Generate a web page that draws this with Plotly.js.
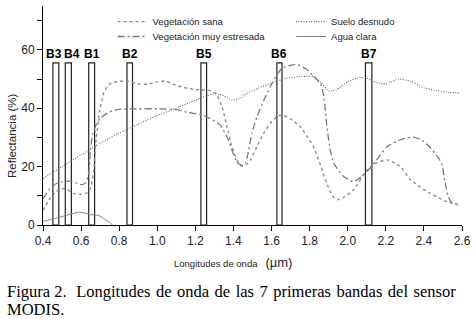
<!DOCTYPE html>
<html>
<head>
<meta charset="utf-8">
<script src="https://cdn.plot.ly/plotly-3.0.1.min.js"></script>
<style>html,body{margin:0;padding:0;background:#fff;}#chart{width:474px;height:319px;}</style>
</head>
<body>
<div id="chart"></div>
<script>
// Spectral reflectance curves (x in µm, y in %)
var sanaX = [0.40,0.43,0.47,0.50,0.53,0.56,0.60,0.63,0.65,0.665,0.68,0.70,0.72,0.75,0.80,0.85,0.90,0.95,1.00,1.04,1.10,1.16,1.22,1.28,1.31,1.34,1.366,1.392,1.418,1.445,1.47,1.49,1.523,1.558,1.593,1.628,1.655,1.70,1.75,1.80,1.82,1.86,1.89,1.92,1.943,1.98,2.03,2.10,2.15,2.206,2.24,2.276,2.33,2.38,2.43,2.48,2.52,2.58];
var sanaY = [5.0,8.5,11.5,12.5,12.0,10.8,10.5,11.0,12.5,18,30,40,45.5,48.3,49.2,49.2,48.3,48.2,49.0,49.3,47.8,46.8,46.3,46.0,44.8,40.5,33.7,26.8,22.3,20.3,20.8,22.3,26.8,31.4,34.8,37.1,37.7,36.3,33.7,29,26.8,20,14.3,10,8.6,9.5,12,18.8,21.3,22.3,21.5,20,15.5,13,10.9,9.2,8.0,7.0];

var estresX = [0.40,0.43,0.47,0.50,0.55,0.58,0.605,0.625,0.64,0.65,0.66,0.68,0.70,0.75,0.80,0.90,1.00,1.10,1.16,1.24,1.29,1.33,1.366,1.392,1.418,1.445,1.465,1.48,1.497,1.523,1.558,1.593,1.628,1.655,1.70,1.735,1.78,1.82,1.856,1.875,1.89,1.908,1.925,1.943,1.98,2.03,2.07,2.118,2.16,2.206,2.26,2.30,2.344,2.39,2.43,2.47,2.494,2.51,2.528,2.547,2.59];
var estresY = [9.0,12.0,14.2,14.8,15.0,14.3,13.8,14.5,18,26,31,34.5,36.5,38.8,39.6,39.8,39.8,39.5,38.6,37.6,36,34.3,30.2,25.7,21.7,20.2,21.5,25.7,31.5,37,42.5,47.3,51.4,53.7,54.7,54.9,53.5,51,48.5,44,34,25.7,21.5,19.5,16.5,14.8,16.5,19.5,23,26.8,28.8,29.7,30.1,29,26.8,23.5,21,15,9.7,7.5,7.0];

var sueloX = [0.40,0.50,0.60,0.70,0.80,0.90,1.00,1.10,1.20,1.26,1.31,1.35,1.39,1.43,1.47,1.53,1.60,1.68,1.74,1.82,1.86,1.90,1.94,2.00,2.06,2.10,2.15,2.20,2.27,2.33,2.40,2.47,2.53,2.59];
var sueloY = [16.0,20.0,24.0,28.0,31.5,34.5,37.5,40.0,42.8,44.3,45.0,44.2,42.8,43.3,45.0,46.8,48.6,50.3,50.8,50.8,48.7,45.9,46.3,49.1,50.5,50.3,48.8,48.4,50.0,49.2,47.0,46.0,45.4,45.2];

var aguaX = [0.40,0.45,0.50,0.55,0.59,0.62,0.65,0.69,0.72,0.75,0.765];
var aguaY = [1.3,2.0,2.9,3.8,4.4,4.1,3.5,3.3,2.2,0.8,0.0];

// MODIS bands
var bandNames = ["B3","B4","B1","B2","B5","B6","B7"];
var bandStart = [0.452,0.517,0.640,0.841,1.229,1.628,2.093];
var bandEnd   = [0.483,0.549,0.671,0.870,1.259,1.655,2.127];
var bandHeight = 55.5;

var seriesNames = ["Vegetación sana","Vegetación muy estresada","Suelo desnudo","Agua clara"];
var xTitle = "Longitudes de onda";
var xUnit = "(µm)";
var yTitle = "Reflectancia (%)";
var caption1 = "Figura 2.&nbsp;&#8202; Longitudes&#8202; de&#8202; onda&#8202; de&#8202; las&#8202; 7&#8202; primeras&#8202; bandas&#8202; del&#8202; sensor";
var caption2 = "MODIS.";

var bandCenter = bandStart.map(function(s,i){return (s+bandEnd[i])/2;});
var bandWidth = bandStart.map(function(s,i){return bandEnd[i]-s;});
var bandH = bandStart.map(function(){return bandHeight;});

var font = "Arial, 'Liberation Sans', sans-serif";
var serif = "'Times New Roman', 'Liberation Serif', serif";

var traces = [
  {type:"bar", x:bandCenter, y:bandH, width:bandWidth,
   marker:{color:"rgba(255,255,255,0)", line:{color:"#222", width:1.2}},
   showlegend:false, hoverinfo:"skip"},
  {type:"scatter", mode:"lines", name:seriesNames[0], x:sanaX, y:sanaY, legend:"legend",
   line:{color:"#8a8a8a", width:1.4, dash:"3px,3px", shape:"spline", smoothing:0.5}},
  {type:"scatter", mode:"lines", name:seriesNames[1], x:estresX, y:estresY, legend:"legend2",
   line:{color:"#7a7a7a", width:1.3, dash:"7px,3px,2px,3px", shape:"spline", smoothing:0.5}},
  {type:"scatter", mode:"lines", name:seriesNames[2], x:sueloX, y:sueloY, legend:"legend3",
   line:{color:"#666", width:1.1, dash:"1px,1.5px", shape:"spline", smoothing:0.5}},
  {type:"scatter", mode:"lines", name:seriesNames[3], x:aguaX, y:aguaY, legend:"legend4",
   line:{color:"#808080", width:1, shape:"spline", smoothing:0.5}}
];

function leg(x, y) {
  return {x:x, y:y, xanchor:"left", yanchor:"top", bgcolor:"rgba(0,0,0,0)",
          font:{family:font, size:9.5, color:"#222"}};
}

// pixel nudges so the crowded visible-band labels do not collide
var labelShift = {"B3":-2, "B4":4};

var annotations = bandNames.map(function(name, i){
  return {xref:"x", yref:"y", x:bandCenter[i], y:bandH[i], xanchor:"center", yanchor:"bottom",
          xshift:(labelShift[name]||0), yshift:0, showarrow:false, text:"<b>"+name+"</b>",
          font:{family:font, size:12, color:"#000"}};
});
annotations.push(
  {xref:"paper", yref:"paper", x:0.4535, y:-0.169, xanchor:"center", yanchor:"middle", showarrow:false,
   text:xTitle+"&nbsp;&nbsp; <span style='font-size:13px'>"+xUnit+"</span>", font:{family:font, size:9.5, color:"#222"}},
  {xref:"paper", yref:"paper", x:-0.074, y:0.411, xanchor:"center", yanchor:"middle", showarrow:false,
   textangle:-90, text:yTitle, font:{family:font, size:11.5, color:"#222"}},
  {xref:"paper", yref:"paper", x:-0.091, y:-0.3014, xanchor:"left", yanchor:"middle", showarrow:false,
   text:caption1, font:{family:serif, size:16.5, color:"#000"}},
  {xref:"paper", yref:"paper", x:-0.091, y:-0.3836, xanchor:"left", yanchor:"middle", showarrow:false,
   text:caption2, font:{family:serif, size:16.5, color:"#000"}}
);

var layout = {
  width:474, height:319,
  margin:{l:43, r:12, t:6, b:94},
  paper_bgcolor:"#fff", plot_bgcolor:"#fff",
  font:{family:font, size:12, color:"#222"},
  showlegend:true,
  legend:leg(0.166, 0.995),
  legend2:leg(0.166, 0.927),
  legend3:leg(0.592, 0.995),
  legend4:leg(0.592, 0.927),
  xaxis:{range:[0.4,2.6], dtick:0.2, tick0:0.4, tickformat:".1f", showgrid:false, zeroline:false,
         showline:true, linecolor:"#000", linewidth:1, ticks:"outside", ticklen:5, tickcolor:"#000",
         tickfont:{family:font, size:12, color:"#222"}},
  yaxis:{range:[0,75], dtick:20, tick0:0, showgrid:false, zeroline:false,
         showline:true, linecolor:"#000", linewidth:1, ticks:"outside", ticklen:5, tickcolor:"#000",
         minor:{dtick:10, ticks:"outside", ticklen:5, tickcolor:"#000"},
         tickfont:{family:font, size:12, color:"#222"}},
  annotations:annotations
};

Plotly.newPlot("chart", traces, layout, {staticPlot:true, displayModeBar:false});
</script>
</body>
</html>
